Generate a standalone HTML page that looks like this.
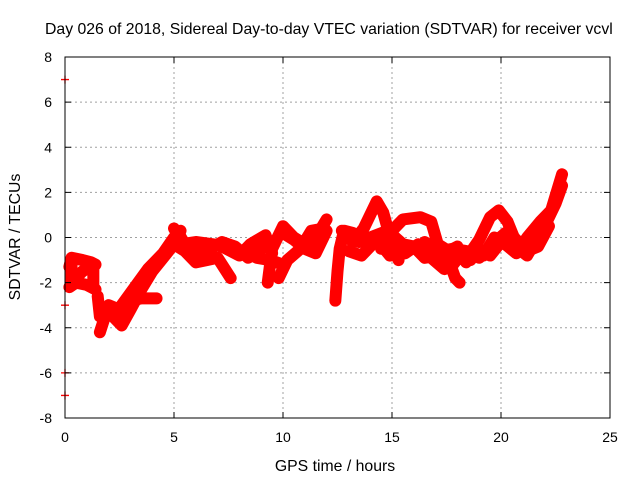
<!DOCTYPE html>
<html><head><meta charset="utf-8"><style>
body{margin:0;background:#fff;}
svg{display:block;font-family:"Liberation Sans",sans-serif;}
</style></head><body>
<svg id="c" width="640" height="480">
<text x="45" y="34" font-size="15.8">Day 026 of 2018, Sidereal Day-to-day VTEC variation (SDTVAR) for receiver vcvl</text>
<text x="335" y="471" font-size="15.8" text-anchor="middle">GPS time / hours</text>
<text transform="translate(20,237) rotate(-90)" font-size="15.8" text-anchor="middle">SDTVAR / TECUs</text>
<g id="grid"></g><g id="marks"></g><g id="axes"></g>
</svg>
<script>
const xTicks=[0,5,10,15,20,25];
const yTicks=[-8,-6,-4,-2,0,2,4,6,8];
const edgeMarks=[[0,7],[0,-3],[0,-6],[0,-7]];
const track1=[[0.2,-1.3],[0.3,-0.9],[0.8,-1.0],[1.2,-1.1],[1.4,-1.2]];
const track2=[[0.2,-2.2],[0.5,-2.0],[1.0,-2.1],[1.4,-2.3]];
const track3=[[1.5,-2.6],[1.6,-3.5],[1.8,-3.3],[2.2,-3.5],[2.6,-3.9],[3.0,-3.2],[3.5,-2.3],[4.0,-1.5],[4.5,-0.9],[5.0,-0.3],[5.3,0.3]];
const track4=[[1.6,-4.2],[2.0,-3.0],[2.5,-3.2],[3.0,-2.8],[3.5,-2.7],[4.2,-2.7]];
const track5=[[2.6,-3.0],[3.2,-2.2],[3.8,-1.4],[4.5,-0.7],[5.0,0]];
const track6=[[5.0,0.4],[5.4,-0.2],[6.0,-0.5],[7.0,-0.3],[8.0,-0.8],[8.5,-0.3],[9.2,0.1],[9.5,-0.7]];
const track7=[[5.0,-0.3],[5.5,-0.6],[6.0,-1.1],[6.5,-1.0],[7.0,-0.9],[7.6,-1.8]];
const track8=[[5.3,-0.3],[6,-0.2],[6.8,-0.3],[7.5,-0.5],[8.2,-0.6],[8.8,-0.9],[9.4,-1.0],[10,-1.2]];
const track9=[[9.3,-2.0],[9.5,-0.5],[10,0.5],[10.5,0.0],[11,-0.3],[11.5,0.0],[12,0.8]];
const track10=[[9.8,-1.8],[10.2,-1.0],[10.8,-0.5],[11.3,0.3],[11.9,0.4]];
const track11=[[10.0,0.2],[10.5,-0.1],[11,-0.5],[11.5,-0.7],[12,0.3]];
const track12=[[12.4,-2.8],[12.5,-1.5],[12.6,-0.5],[12.8,0.3],[13.2,0.2]];
const track13=[[12.7,0.3],[13.2,-0.2],[13.7,0.4],[14.3,1.6],[14.6,1.1],[15.0,-0.3],[15.3,-1.0]];
const track14=[[14.5,-0.5],[15,0.3],[15.5,0.8],[16.3,0.9],[16.8,0.7],[17.1,-0.3],[17.6,-0.6],[18,-0.4]];
const track15=[[12.8,0],[13.5,-0.2],[14,0],[14.8,0.3],[15.5,-0.3],[16,-0.4],[16.5,-0.9],[17.2,-0.8],[17.8,-1.2],[18.2,-0.7],[18.6,-1.0],[19,-0.5]];
const track16=[[13,-0.6],[13.6,-0.8],[14.3,-0.1],[14.9,-0.8],[15.6,-0.7],[16.2,-0.3],[16.8,-0.9],[17.4,-1.4],[18,-0.6],[18.4,-1.1],[18.8,-0.7]];
const track17=[[17.6,-1.0],[17.9,-1.8],[18.1,-2.0]];
const track18=[[18.5,-0.8],[19,-0.1],[19.5,0.9],[19.9,1.2],[20.3,0.7],[20.8,-0.5],[21.2,-0.8],[21.5,-0.3],[22,0.5],[22.5,1.5],[22.8,2.3]];
const track19=[[19.2,-0.8],[19.7,0],[20.2,-0.3],[20.7,-0.7],[21.2,0.0],[21.8,0.7],[22.3,1.2],[22.8,2.8]];
const track20=[[19.5,-0.8],[20,-0.2],[20.6,0],[21.2,-0.6],[21.7,-0.4],[22.2,0.5]];
const track21=[[5.2,0.2],[5.8,-0.8],[6.5,-0.6],[7.2,-0.2],[7.8,-0.4],[8.4,-0.9],[9.0,-0.5]];
const track22=[[0.3,-1.0],[0.3,-2.0],[0.8,-1.5],[1.3,-1.2],[1.3,-2.2]];
const track23=[[16.5,-0.2],[17.2,-0.6],[17.8,-0.5],[18.4,-0.6],[19.0,-0.9],[19.6,-0.3],[20.2,0.2],[20.9,-0.3],[21.4,-0.2]];
const tracks=[track1,track2,track3,track4,track5,track6,track7,track8,track9,track10,track11,track12,track13,track14,track15,track16,track17,track18,track19,track20,track21,track22,track23];

const X0=65,X1=610,Y0=418,Y1=57;
const sx=v=>X0+(v-0)/(25-0)*(X1-X0);
const sy=v=>Y0-(v+8)/16*(Y0-Y1);
const NS="http://www.w3.org/2000/svg";
function mk(t,a,p){const e=document.createElementNS(NS,t);for(const k in a)e.setAttribute(k,a[k]);p.appendChild(e);return e;}
const grid=document.getElementById('grid'),axes=document.getElementById('axes'),marks=document.getElementById('marks');
xTicks.forEach(t=>{
  const x=sx(t);
  if(t>0&&t<25){const g=mk('line',{x1:x,x2:x,y1:Y1,y2:Y0,stroke:'#a0a0a0','stroke-dasharray':'2,3'},grid);
  }
  mk('line',{x1:x,x2:x,y1:Y0,y2:Y0-6,stroke:'#000'},axes);mk('line',{x1:x,x2:x,y1:Y1,y2:Y1+6,stroke:'#000'},axes);
  const l=mk('text',{x:x,y:Y0+24,'font-size':14,'text-anchor':'middle'},axes);l.textContent=t;
  
});
yTicks.forEach(t=>{
  const y=sy(t);
  if(t>-8&&t<8){const g=mk('line',{x1:X0,x2:X1,y1:y,y2:y,stroke:'#a0a0a0','stroke-dasharray':'2,3'},grid);
  }
  mk('line',{x1:X0,x2:X0+6,y1:y,y2:y,stroke:'#000'},axes);mk('line',{x1:X1,x2:X1-6,y1:y,y2:y,stroke:'#000'},axes);
  const l=mk('text',{x:X0-13,y:y+5,'font-size':14,'text-anchor':'end'},axes);l.textContent=t;
  
});
const fr=mk('rect',{x:X0,y:Y1,width:X1-X0,height:Y0-Y1,fill:'none',stroke:'#000'},axes);

function plus(x,y){mk('path',{d:`M${x-4},${y}h8M${x},${y-4}v8`,stroke:'#f00','stroke-width':1.3},marks);}
tracks.forEach(tr=>{
  const p=mk('polyline',{points:tr.map(d=>sx(d[0])+','+sy(d[1])).join(' '),fill:'none',stroke:'#f00','stroke-width':12,'stroke-linejoin':'round','stroke-linecap':'round'},marks);
  
  tr.forEach(d=>plus(sx(d[0]),sy(d[1])));
});
edgeMarks.forEach(d=>plus(sx(d[0]),sy(d[1])));
</script>
</body></html>
